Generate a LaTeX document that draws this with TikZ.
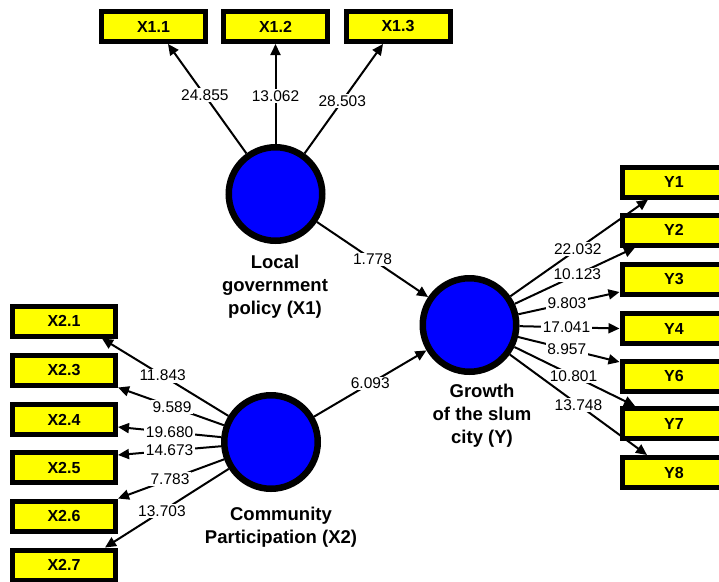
\documentclass[tikz,border=0pt]{standalone}
\usepackage{fontspec}
\setmainfont{Liberation Sans}
\usetikzlibrary{arrows.meta}
\definecolor{latent}{RGB}{0,0,255}
\definecolor{indicator}{RGB}{255,255,0}
\tikzset{
  latentvar/.style={circle,draw=black,fill=latent,line width=6.5pt,minimum size=93.5pt,inner sep=0pt},
  item/.style={rectangle,draw=black,fill=indicator,line width=5pt,minimum width=104pt,minimum height=30pt,inner sep=0pt,font=\fontsize{16}{18}\selectfont\bfseries},
  caption/.style={align=center,font=\fontsize{18.5}{23}\selectfont\bfseries},
  conn/.style={draw=black,line width=2pt,-{Triangle[length=11pt,width=10pt]}},
  num/.style={fill=white,inner sep=1.5pt,font=\fontsize{15.5}{17}\selectfont},
}
\begin{document}
\begin{tikzpicture}[x=1pt,y=-1pt]
\clip (0,0) rectangle (719,581);
\fill[white] (0,0) rectangle (719,581);

% latent variables
\node[latentvar] (x1) at (275.5,194) {};
\node[latentvar] (y)  at (469.5,325) {};
\node[latentvar] (x2) at (271,442) {};
\node[caption] (x1cap) at (275,287) {Local\\government\\policy (X1)};
\node[caption] (ycap)  at (482,416) {Growth\\of the slum\\city (Y)};
\node[caption] (x2cap) at (281,527) {Community\\Participation (X2)};

% indicators of X1
\node[item] (x11) at (153.5,26.5) {X1.1};
\node[item] (x12) at (275.5,26.5) {X1.2};
\node[item] (x13) at (398,26.5)   {X1.3};

% indicators of X2
\node[item,minimum width=103pt] (x21) at (64,321)   {X2.1};
\node[item,minimum width=103pt] (x23) at (64,370)   {X2.3};
\node[item,minimum width=103pt] (x24) at (64,419.5) {X2.4};
\node[item,minimum width=103pt] (x25) at (64,467.5) {X2.5};
\node[item,minimum width=103pt] (x26) at (64,516)   {X2.6};
\node[item,minimum width=103pt] (x27) at (64,565)   {X2.7};

% indicators of Y
\node[item] (y1) at (674,182)   {Y1};
\node[item] (y2) at (674,230)   {Y2};
\node[item] (y3) at (674,279)   {Y3};
\node[item] (y4) at (674,328.5) {Y4};
\node[item] (y6) at (674,376)   {Y6};
\node[item] (y7) at (674,423.5) {Y7};
\node[item] (y8) at (674,472.5) {Y8};

% outer loadings of X1
\draw[conn] (x1) -- node[num,pos=0.53]{24.855} ([xshift=14.5pt]x11.south);
\draw[conn] (x1) -- node[num,pos=0.48]{13.062} (x12.south);
\draw[conn] (x1) -- node[num,pos=0.48]{28.503} ([xshift=-15pt]x13.south);

% structural paths
\draw[conn] (x1) -- node[num,pos=0.5]{1.778} (y);
\draw[conn] (x2) -- node[num,pos=0.5]{6.093} (y);

% outer loadings of X2
\draw[conn] (x2) -- node[num,pos=0.52]{11.843} ([xshift=38pt]x21.south);
\draw[conn] (x2) -- node[num,pos=0.49]{9.589} (x23.south east);
\draw[conn] (x2) -- node[num,pos=0.5]{19.680} ([yshift=-7.5pt]x24.east);
\draw[conn] (x2) -- node[num,pos=0.5]{14.673} ([yshift=12.5pt]x25.east);
\draw[conn] (x2) -- node[num,pos=0.51]{7.783} (x26.north east);
\draw[conn] (x2) -- node[num,pos=0.54]{13.703} ([xshift=41pt]x27.north);

% outer loadings of Y
\draw[conn] (y) -- node[num,pos=0.49]{22.032} ([xshift=-26pt]y1.south);
\draw[conn] (y) -- node[num,pos=0.52]{10.123} ([xshift=-39pt]y2.south);
\draw[conn] (y) -- node[num,pos=0.48]{9.803} ([yshift=-13pt]y3.west);
\draw[conn] (y) -- node[num,pos=0.47]{17.041} (y4.west);
\draw[conn] (y) -- node[num,pos=0.48]{8.957} ([yshift=14pt]y6.west);
\draw[conn] (y) -- node[num,pos=0.49]{10.801} ([xshift=-39pt]y7.north);
\draw[conn] (y) -- node[num,pos=0.5]{13.748} ([xshift=-27pt]y8.north);
\end{tikzpicture}
\end{document}
